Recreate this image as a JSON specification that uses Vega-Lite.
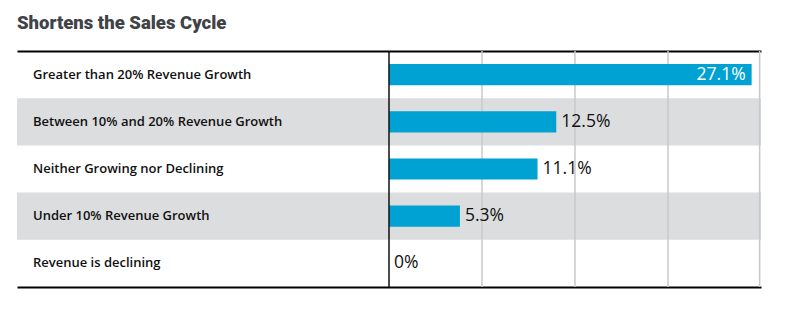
{
  "$schema": "https://vega.github.io/schema/vega-lite/v6.json",
  "width": 744,
  "height": 236,
  "autosize": "none",
  "padding": {"left": 17, "top": 51, "right": 25, "bottom": 34},
  "title": {"text": "Shortens the Sales Cycle", "anchor": "start", "frame": "group", "font": "Roboto", "fontSize": 18.5, "fontWeight": 900, "color": "#3f4347", "offset": 18},
  "config": {"view": {"stroke": null}},
  "data": {"values": [
    {"cat": "Greater than 20% Revenue Growth", "v": 27.1, "label": "27.1%"},
    {"cat": "Between 10% and 20% Revenue Growth", "v": 12.5, "label": "12.5%"},
    {"cat": "Neither Growing nor Declining", "v": 11.1, "label": "11.1%"},
    {"cat": "Under 10% Revenue Growth", "v": 5.3, "label": "5.3%"},
    {"cat": "Revenue is declining", "v": 0, "label": "0%"}
  ]},
  "resolve": {"axis": {"x": "independent"}},
  "layer": [
    {
      "transform": [{"filter": {"field": "cat", "oneOf": ["Between 10% and 20% Revenue Growth", "Under 10% Revenue Growth"]}}],
      "mark": {"type": "bar", "color": "#dcdddf"},
      "encoding": {
        "y": {"field": "cat", "type": "nominal", "sort": null, "axis": null,
          "scale": {"domain": ["Greater than 20% Revenue Growth", "Between 10% and 20% Revenue Growth", "Neither Growing nor Declining", "Under 10% Revenue Growth", "Revenue is declining"], "paddingInner": 0, "paddingOuter": 0}},
        "x": {"datum": -27.8, "type": "quantitative", "scale": {"domain": [-27.8, 27.8], "nice": false, "zero": false},
          "axis": {"orient": "bottom", "domain": true, "domainColor": "#000000", "domainWidth": 2, "labels": false, "ticks": false, "grid": false, "title": null}},
        "x2": {"datum": 27.8}
      }
    },
    {"data": {"values": [{}]}, "mark": {"type": "rule", "color": "#c8c8c8", "strokeWidth": 1.5}, "encoding": {"x": {"datum": 6.95, "type": "quantitative", "axis": {"orient": "top", "domain": true, "domainColor": "#000000", "domainWidth": 2, "labels": false, "ticks": false, "grid": false, "title": null}}}},
    {"data": {"values": [{}]}, "mark": {"type": "rule", "color": "#c8c8c8", "strokeWidth": 1.5}, "encoding": {"x": {"datum": 13.9, "type": "quantitative", "axis": null}}},
    {"data": {"values": [{}]}, "mark": {"type": "rule", "color": "#c8c8c8", "strokeWidth": 1.5}, "encoding": {"x": {"datum": 20.85, "type": "quantitative", "axis": null}}},
    {"data": {"values": [{}]}, "mark": {"type": "rule", "color": "#c8c8c8", "strokeWidth": 1.5}, "encoding": {"x": {"datum": 27.7, "type": "quantitative", "axis": null}}},
    {
      "mark": {"type": "bar", "color": "#00a2d3", "height": {"band": 0.45}},
      "encoding": {
        "y": {"field": "cat", "type": "nominal", "sort": null, "axis": null},
        "x": {"field": "v", "type": "quantitative", "axis": null}
      }
    },
    {"data": {"values": [{}]}, "mark": {"type": "rule", "color": "#111111", "strokeWidth": 1.5}, "encoding": {"x": {"datum": 0, "type": "quantitative", "axis": null}}},
    {
      "mark": {"type": "text", "align": "left", "baseline": "middle", "dx": 16, "font": "Open Sans", "fontWeight": 600, "fontSize": 13, "color": "#111111"},
      "encoding": {
        "y": {"field": "cat", "type": "nominal", "sort": null, "axis": null},
        "x": {"datum": -27.8, "type": "quantitative", "axis": null},
        "text": {"field": "cat"}
      }
    },
    {
      "transform": [{"filter": "datum.v <= 20"}],
      "mark": {"type": "text", "align": "left", "baseline": "middle", "dx": 5, "font": "Open Sans", "fontSize": 17.5, "color": "#111111"},
      "encoding": {
        "y": {"field": "cat", "type": "nominal", "sort": null, "axis": null},
        "x": {"field": "v", "type": "quantitative", "axis": null},
        "text": {"field": "label"}
      }
    },
    {
      "transform": [{"filter": "datum.v > 20"}],
      "mark": {"type": "text", "align": "right", "baseline": "middle", "dx": -6, "font": "Open Sans", "fontSize": 17.5, "color": "#ffffff"},
      "encoding": {
        "y": {"field": "cat", "type": "nominal", "sort": null, "axis": null},
        "x": {"field": "v", "type": "quantitative", "axis": null},
        "text": {"field": "label"}
      }
    }
  ]
}
